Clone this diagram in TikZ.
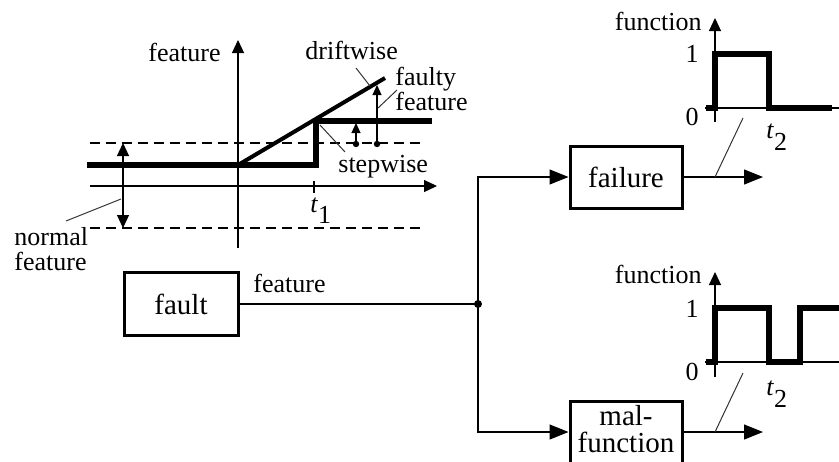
\documentclass[tikz,border=0pt]{standalone}
\usepackage{fontspec}
\setmainfont{Liberation Serif}
\usetikzlibrary{arrows.meta}
\begin{document}
\begin{tikzpicture}[x=0.5pt,y=-0.5pt,
  thinln/.style={line width=0.6pt},
  leader/.style={line width=0.5pt, black!80},
  thickln/.style={line width=2.8pt},
  driftln/.style={line width=2pt},
  funln/.style={line width=2.6pt},
  dashln/.style={line width=0.6pt, dash pattern=on 5pt off 3pt},
  arr/.style={-{Triangle[length=6.5pt,width=6pt]}},
  barr/.style={-{Triangle[length=9.5pt,width=7.5pt]}},
  sarr/.style={-{Triangle[length=5pt,width=4.5pt]}},
  lbl/.style={font=\fontsize{13}{15}\selectfont, inner sep=0pt},
  block/.style={draw, line width=1.5pt, font=\fontsize{14.5}{13.5}\selectfont, inner sep=0pt, align=center}
]
\useasboundingbox (0,0) rectangle (839,461);
\clip (0,0) rectangle (839,461);

% ---------- feature diagram (top left) ----------
\draw[thinln, arr] (238,248) -- (238,40);
\draw[thinln, arr] (90,186) -- (437,186);
\draw[dashln] (90,143) -- (423,143);
\draw[dashln] (90,228) -- (423,228);
\draw[thickln] (87,165) -- (316,165) -- (316,121) -- (432,121);
\draw[driftln] (238,165) -- (385,78);
\draw[thinln] (314,181) -- (314,193);
\draw[thinln, {Triangle[length=6.5pt,width=6pt]}-{Triangle[length=6.5pt,width=6pt]}] (123,143) -- (123,228);
\fill (356,144) circle (1.6pt);
\draw[thinln, sarr] (356,144) -- (356,123);
\fill (377,144) circle (1.6pt);
\draw[thinln, sarr] (377,144) -- (377,85);
\draw[leader] (66,221) -- (121,199);
\draw[leader] (356,68) -- (370,86);
\draw[leader] (378,108) -- (397,90);
\draw[leader] (320,125) -- (345,152);

\node[lbl, anchor=base east] (flab) at (221,61) {feature};
\node[lbl, anchor=base west] (drift) at (305,59) {driftwise};
\node[lbl, anchor=base west] (faulty1) at (395,85) {faulty};
\node[lbl, anchor=base west] (faulty2) at (395,110) {feature};
\node[lbl, anchor=base west] (step) at (338,172) {stepwise};
\node[lbl, anchor=base west] (norm1) at (14,245) {normal};
\node[lbl, anchor=base west] (norm2) at (14,270) {feature};
\node[lbl, anchor=base west] (t1) at (310,212) {\textit{t}\raisebox{-5.5pt}{1}};

% ---------- blocks ----------
\node[block, minimum width=57pt, minimum height=31.5pt] (fault) at (181,304) {fault};
\node[block, minimum width=56pt, minimum height=31pt] (failure) at (626,177) {failure};
\node[block, minimum width=56pt, minimum height=31pt, text depth=3pt] (mal) at (626,432) {mal-\\function};
\coordinate (junc) at (478,304);
\coordinate (fout) at (763,177);
\coordinate (mout) at (763,432);
\coordinate (fleadA) at (715,177);
\coordinate (fleadB) at (743,118);
\coordinate (mleadA) at (715,432);
\coordinate (mleadB) at (743,373);

\draw[thinln] (fault.east) -- (junc);
\fill (junc) circle (2pt);
\draw[thinln, barr] (junc) |- (failure.west);
\draw[thinln, barr] (junc) |- (mal.west);
\draw[thinln, barr] (failure.east) -- (fout);
\draw[thinln, barr] (mal.east) -- (mout);
\draw[leader] (fleadA) -- (fleadB);
\draw[leader] (mleadA) -- (mleadB);
\node[lbl, anchor=base west] (featlab) at (253,292) {feature};

% ---------- function graph (top) ----------
\draw[thinln, arr] (715,122) -- (715,18);
\draw[thinln] (705,108) -- (839,108);
\draw[funln] (706,108) -- (715,108) -- (715,54) -- (769,54) -- (769,108) -- (832,108);
\node[lbl, anchor=base east] (fun1) at (702,30) {function};
\node[lbl, anchor=base east] (one1) at (699,62) {1};
\node[lbl, anchor=base east] (zero1) at (699,125) {0};
\node[lbl, anchor=base west] (t2a) at (766,138) {\textit{t}\raisebox{-6pt}{2}};

% ---------- function graph (bottom) ----------
\draw[thinln, arr] (715,377) -- (715,272);
\draw[thinln] (705,362) -- (839,362);
\draw[funln] (706,362) -- (715,362) -- (715,308) -- (769,308) -- (769,362) -- (800,362) -- (800,308) -- (845,308);
\node[lbl, anchor=base east] (fun2) at (702,283) {function};
\node[lbl, anchor=base east] (one2) at (699,317) {1};
\node[lbl, anchor=base east] (zero2) at (699,380) {0};
\node[lbl, anchor=base west] (t2b) at (766,395) {\textit{t}\raisebox{-6pt}{2}};
\end{tikzpicture}
\end{document}
